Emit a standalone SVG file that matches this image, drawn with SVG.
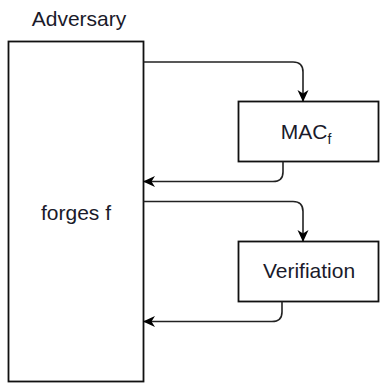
<svg xmlns="http://www.w3.org/2000/svg" width="380" height="383" viewBox="0 0 380 383">
<defs>
<style>
.box{fill:#fff;stroke:#111;stroke-width:1.8}
.lbl{font-family:"Liberation Sans",Arial,sans-serif;font-size:21px;fill:#1a1a2a}
.edge{fill:none;stroke:#222;stroke-width:1.6}
</style>
<marker id="ah" viewBox="0 0 12 12" refX="11" refY="6" markerWidth="12" markerHeight="12" markerUnits="userSpaceOnUse" orient="auto">
<path d="M0,0.5 L12,6 L0,11.5 L3.5,6 Z" fill="#000"/>
</marker>
</defs>
<rect width="380" height="383" fill="#fff"/>
<g id="adversary">
<text class="lbl" x="79" y="26" text-anchor="middle">Adversary</text>
<rect class="box" x="8.5" y="41.5" width="135" height="340"/>
<text class="lbl" x="76" y="220" text-anchor="middle">forges f</text>
</g>
<g id="mac">
<rect class="box" x="238.5" y="101.5" width="140" height="60"/>
<text class="lbl" x="306" y="139" text-anchor="middle">MAC<tspan font-size="14" dy="5">f</tspan></text>
</g>
<g id="verification">
<rect class="box" x="238.5" y="241.5" width="140" height="60"/>
<text class="lbl" x="309" y="278" text-anchor="middle">Verifiation</text>
</g>
<g id="connectors">
<path class="edge" d="M143.5,62 H293 Q303,62 303,72 V101" marker-end="url(#ah)"/>
<path class="edge" d="M283,161.5 V172 Q283,181.5 273,181.5 H144" marker-end="url(#ah)"/>
<path class="edge" d="M143.5,201.5 H293 Q303,201.5 303,211.5 V241" marker-end="url(#ah)"/>
<path class="edge" d="M282,301.5 V312 Q282,321.5 272,321.5 H144" marker-end="url(#ah)"/>
</g>
</svg>
